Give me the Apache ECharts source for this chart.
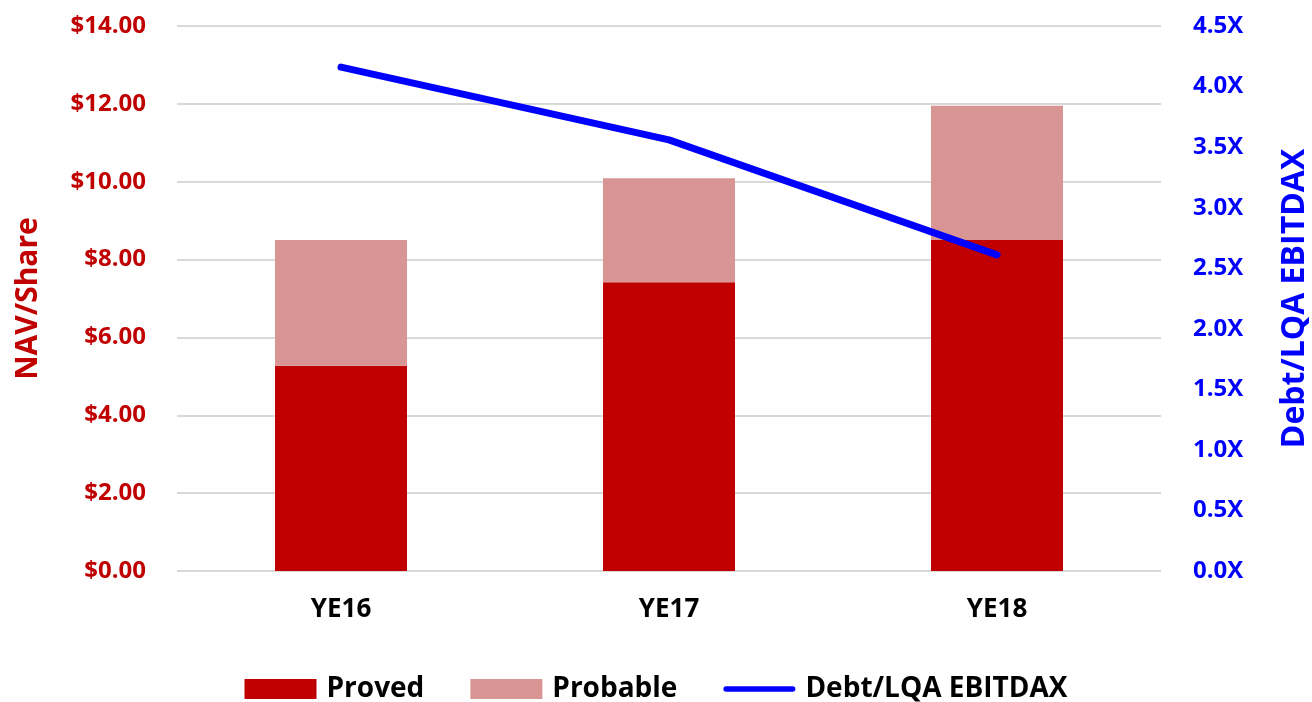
<!DOCTYPE html>
<html>
<head>
<meta charset="utf-8">
<script src="https://cdn.jsdelivr.net/npm/echarts@6/dist/echarts.min.js"></script>
<style>
  html, body { margin: 0; padding: 0; background: #fff; }
  #chart { width: 1312px; height: 702px; }
</style>
</head>
<body>
<div id="chart"></div>
<script>
// Year-end periods
const categories = ['YE16', 'YE17', 'YE18'];
// NAV per share split by reserve class ($)
const proved = [5.27, 7.42, 8.50];
const probable = [3.23, 2.67, 3.45];
// Leverage multiple (x)
const leverage = [4.16, 3.56, 2.61];

const FONT = 'Open Sans';
const RED = '#C00000';
const PINK = '#D99594';
const BLUE = '#0000FF';

const chart = echarts.init(document.getElementById('chart'));
chart.setOption({
  animation: false,
  textStyle: { fontFamily: FONT },
  grid: { left: 177, right: 151, top: 26, bottom: 131, outerBoundsMode: 'none', containLabel: false },
  legend: {
    top: 670,
    left: 'center',
    itemGap: 46,
    itemWidth: 72,
    itemHeight: 20,
    symbolKeepAspect: true,
    textStyle: { fontFamily: FONT, fontSize: 28, fontWeight: 'bold', color: '#000', padding: [0, 0, 0, 5] },
    data: [
      { name: 'Proved', icon: 'rect' },
      { name: 'Probable', icon: 'rect' },
      {
        name: 'Debt/LQA EBITDAX',
        icon: 'path://M3,0 L77,0 A3,3 0 0 1 77,6 L3,6 A3,3 0 0 1 3,0 Z',
        itemStyle: { color: BLUE }
      }
    ]
  },
  xAxis: {
    type: 'category',
    data: categories,
    axisLine: { show: false },
    axisTick: { show: false },
    axisLabel: { margin: 26, fontFamily: FONT, fontSize: 26, fontWeight: 'bold', color: '#000' }
  },
  yAxis: [
    {
      type: 'value',
      min: 0, max: 14, interval: 2,
      name: 'NAV/Share',
      nameLocation: 'middle',
      nameRotate: 90,
      nameGap: 134,
      nameTextStyle: { fontFamily: FONT, fontSize: 30, fontWeight: 'bold', color: RED },
      axisLine: { show: false },
      axisTick: { show: false },
      splitLine: { lineStyle: { color: '#D9D9D9', width: 2 } },
      axisLabel: {
        margin: 31,
        fontFamily: FONT, fontSize: 24, fontWeight: 'bold', color: RED,
        formatter: v => '$' + v.toFixed(2)
      }
    },
    {
      type: 'value',
      min: 0, max: 4.5, interval: 0.5,
      position: 'right',
      name: 'Debt/LQA EBITDAX',
      nameLocation: 'middle',
      nameRotate: 90,
      nameGap: 118,
      nameTextStyle: { fontFamily: FONT, fontSize: 32, fontWeight: 'bold', color: BLUE },
      axisLine: { show: false },
      axisTick: { show: false },
      splitLine: { show: false },
      axisLabel: {
        margin: 32,
        fontFamily: FONT, fontSize: 24, fontWeight: 'bold', color: BLUE,
        formatter: v => v.toFixed(1) + 'X'
      }
    }
  ],
  series: [
    {
      name: 'Proved', type: 'bar', stack: 'nav', data: proved,
      barWidth: 132, itemStyle: { color: RED }
    },
    {
      name: 'Probable', type: 'bar', stack: 'nav', data: probable,
      barWidth: 132, itemStyle: { color: PINK }
    },
    {
      name: 'Debt/LQA EBITDAX', type: 'line', yAxisIndex: 1, data: leverage,
      symbol: 'none',
      lineStyle: { color: BLUE, width: 7, cap: 'round' },
      itemStyle: { color: BLUE },
      z: 5
    }
  ]
});
</script>
</body>
</html>
